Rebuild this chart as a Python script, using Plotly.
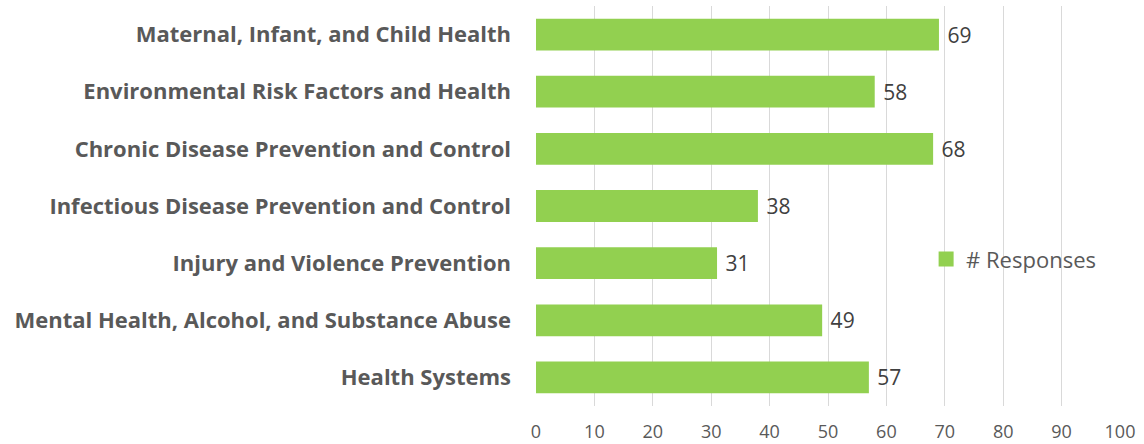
import plotly.graph_objects as go

categories = [
    "Maternal, Infant, and Child Health",
    "Environmental Risk Factors and Health",
    "Chronic Disease Prevention and Control",
    "Infectious Disease Prevention and Control",
    "Injury and Violence Prevention",
    "Mental Health, Alcohol, and Substance Abuse",
    "Health Systems",
]
responses = [69, 58, 68, 38, 31, 49, 57]
series_name = "# Responses"
x_ticks = [0, 10, 20, 30, 40, 50, 60, 70, 80, 90, 100]

GREEN = "#92D050"

fig = go.Figure()
fig.add_trace(go.Bar(
    y=categories,
    x=responses,
    orientation="h",
    name=series_name,
    marker=dict(color=GREEN, line=dict(width=0)),
    text=responses,
    texttemplate=" %{text}",
    textposition="outside",
    textfont=dict(family="Open Sans", size=21, color="#404040"),
    cliponaxis=False,
    showlegend=False,
))
# legend entry with a larger square swatch
fig.add_trace(go.Scatter(
    x=[None], y=[None], mode="markers", name=series_name,
    marker=dict(symbol="square", size=15, color=GREEN),
    showlegend=True, hoverinfo="skip",
))

fig.update_layout(
    width=1144, height=444,
    margin=dict(l=536, r=24, t=6, b=38),
    paper_bgcolor="white",
    plot_bgcolor="white",
    bargap=0.444,
    font=dict(family="Open Sans", color="#595959"),
    showlegend=True,
    legend=dict(
        x=0.668, y=0.367, xanchor="left", yanchor="middle",
        font=dict(family="Open Sans", size=22, color="#595959"),
        bgcolor="rgba(0,0,0,0)",
    ),
    xaxis=dict(
        range=[0, 100],
        tickvals=x_ticks,
        showgrid=True, gridcolor="#D9D9D9", gridwidth=1,
        zeroline=False, showline=False,
        tickfont=dict(family="Open Sans", size=18, color="#595959"),
        ticks="", ticklabelstandoff=13, automargin=False,
    ),
    yaxis=dict(
        categoryorder="array", categoryarray=categories[::-1],
        showgrid=False, zeroline=False, showline=False,
        tickfont=dict(family="Open Sans", size=22, color="#595959", weight="bold"),
        ticks="", ticklabelstandoff=24, automargin=False,
    ),
)

fig.write_html(
    "out.html",
    config={"displayModeBar": False},
    post_script="document.body.style.margin='0';",
)
